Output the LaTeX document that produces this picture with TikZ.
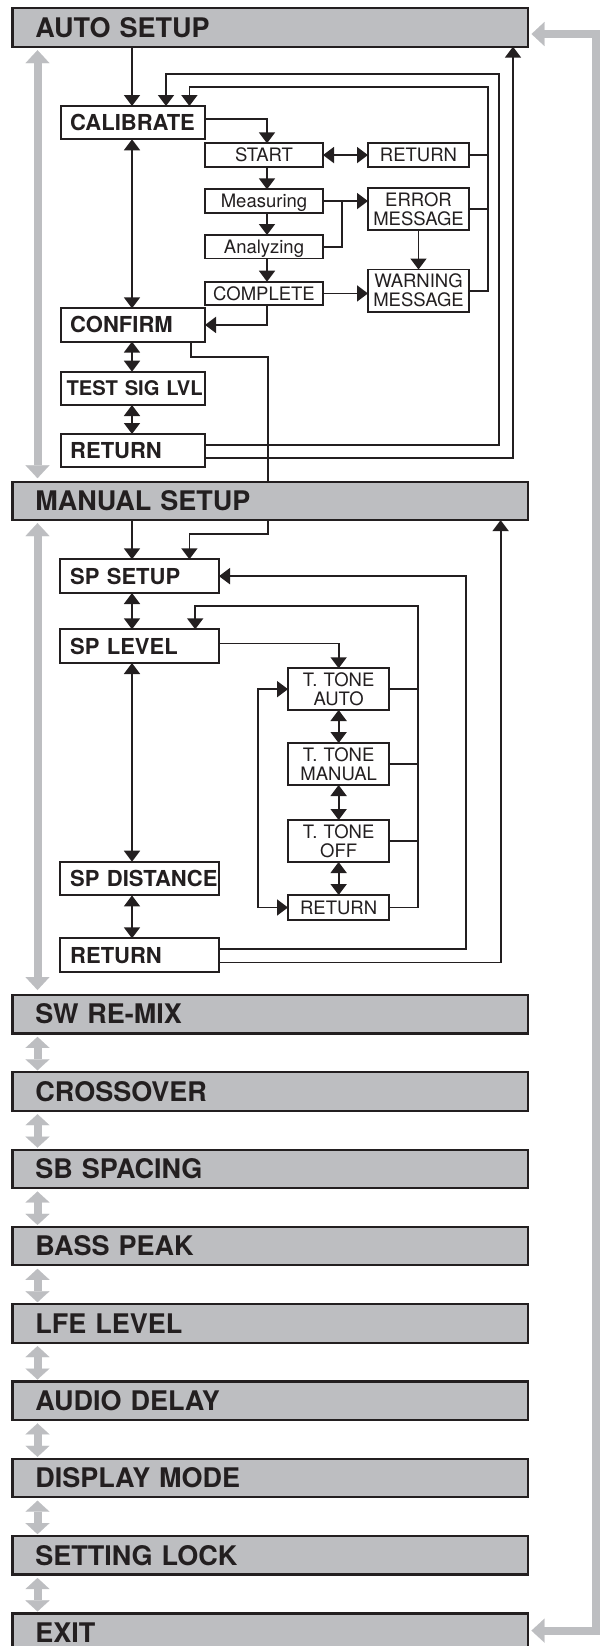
\documentclass[tikz,border=0pt]{standalone}
\usepackage{fontspec}
\setmainfont{TeX Gyre Heros}
\usetikzlibrary{arrows.meta,calc}
\definecolor{hdr}{RGB}{189,190,193}
\definecolor{garr}{RGB}{189,190,193}
\definecolor{ink}{RGB}{35,31,32}
\tikzset{
  hdrbox/.style={draw=ink, line width=2.2pt, fill=hdr, anchor=north west, outer sep=0pt,
    inner ysep=0pt, inner xsep=23pt, text width=469.6pt, minimum height=38.4pt, align=left,
    font=\bfseries\fontsize{27}{29}\selectfont, text height=19.4pt, text depth=0pt, text=ink},
  subA/.style={draw=ink, line width=2pt, fill=white, anchor=north west, outer sep=0pt,
    inner ysep=0pt, inner xsep=9.2pt, text width=125.6pt, minimum height=33.3pt, align=left,
    font=\bfseries\fontsize{22}{24}\selectfont, text height=15.8pt, text depth=0pt, text=ink},
  subB/.style={subA, inner xsep=10.2pt, text width=138.6pt, minimum height=33.7pt},
  smallbox/.style={draw=ink, line width=1.8pt, fill=white, anchor=north west, outer sep=0pt,
    inner sep=0pt, text width=118pt, minimum height=23.5pt, align=center,
    font=\fontsize{18.5}{20}\selectfont, text height=13.3pt, text depth=0pt, text=ink},
  twobox/.style={draw=ink, line width=1.8pt, fill=white, anchor=north west, outer sep=0pt,
    inner sep=0pt, text width=101pt, minimum height=42pt, align=center,
    font=\fontsize{18.5}{19}\selectfont, text=ink},
  ln/.style={draw=ink, line width=1.8pt},
  arr/.style={ln, -{Triangle[length=11pt,width=16pt]}},
  darr/.style={ln, {Triangle[length=11pt,width=16pt]}-{Triangle[length=11pt,width=16pt]}},
  gdarr/.style={draw=garr, line width=8pt,
    {Triangle[length=13pt,width=24pt,line width=0.1pt]}-{Triangle[length=13pt,width=24pt,line width=0.1pt]}},
  gsmall/.style={draw=garr, line width=8pt,
    {Triangle[length=11pt,width=24pt,line width=0.1pt]}-{Triangle[length=11pt,width=24pt,line width=0.1pt]}},
}
\begin{document}
\begin{tikzpicture}[x=1pt,y=-1pt]
\useasboundingbox (0,0) rectangle (603,1646);
\clip (0,0) rectangle (603,1646);

% headers
\node[hdrbox] (auto) at (12.4,8.3) {AUTO SETUP};
\node[hdrbox] (manual) at (12.4,481.7) {MANUAL SETUP};
\node[hdrbox] (swremix) at (12.4,995) {SW RE-MIX};
\node[hdrbox] (crossover) at (12.4,1072.3) {CROSSOVER};
\node[hdrbox] (sbspacing) at (12.4,1149.6) {SB SPACING};
\node[hdrbox] (basspeak) at (12.4,1226.9) {BASS PEAK};
\node[hdrbox] (lfelevel) at (12.4,1304.2) {LFE LEVEL};
\node[hdrbox] (audiodelay) at (12.4,1381.5) {AUDIO DELAY};
\node[hdrbox] (displaymode) at (12.4,1458.8) {DISPLAY MODE};
\node[hdrbox] (settinglock) at (12.4,1536.1) {SETTING LOCK};
\node[hdrbox] (exit) at (12.4,1613.4) {EXIT};

% auto setup items
\node[subA] (calib) at (61,106) {\mbox{CALIBRATE}};
\node[subA] (confirm) at (61,308.3) {CONFIRM};
\node[subA, inner xsep=5.5pt, text width=133pt, font=\bfseries\fontsize{20.2}{22}\selectfont, text height=14.5pt] (testsig) at (61,371.7) {\mbox{TEST SIG LVL}};
\node[subA] (ret1) at (61,434) {RETURN};

\node[smallbox] (start) at (205,143.3) {START};
\node[smallbox] (meas) at (205,189.3) {Measuring};
\node[smallbox] (anal) at (205,235) {Analyzing};
\node[smallbox] (compl) at (205,281.7) {COMPLETE};
\node[smallbox, text width=101pt] (retA) at (368,143.3) {RETURN};
\node[twobox, minimum height=41.7pt] (err) at (368,188.3) {ERROR\\MESSAGE};
\node[twobox, minimum height=42.2pt] (warn) at (368,269.5) {WARNING\\MESSAGE};

% manual setup items
\node[subB] (spsetup) at (60,559.3) {SP SETUP};
\node[subB] (splevel) at (60,629.3) {SP LEVEL};
\node[subB] (spdist) at (60,861.7) {\mbox{SP DISTANCE}};
\node[subB] (ret2) at (60,938.3) {RETURN};

\node[twobox, text width=101.3pt, minimum height=41.7pt] (tta) at (288,668.3) {T. TONE\\AUTO};
\node[twobox, text width=101.3pt] (ttm) at (288,743) {T. TONE\\MANUAL};
\node[twobox, text width=101.3pt] (tto) at (288,820) {T. TONE\\OFF};
\node[smallbox, text width=101.3pt, minimum height=25pt] (ttr) at (288,895) {RETURN};

% helper coordinates
\coordinate (cA) at (132,0);
\coordinate (cM) at (267,0);
\coordinate (oR) at (498.6,74);
\coordinate (oL) at (166,74);
\coordinate (iR) at (488,87.3);
\coordinate (iL) at (189.4,87.3);
\coordinate (uA) at (513,0);
\coordinate (mj) at (342,0);
\coordinate (cf) at (191.3,0);
\coordinate (cm2) at (268,356.7);
\coordinate (cm3) at (189.4,534.3);
\coordinate (r2x) at (466,0);
\coordinate (uM) at (500.6,0);
\coordinate (tR) at (418,605.7);
\coordinate (tL) at (195.2,605.7);
\coordinate (tl2) at (258,0);
\coordinate (gx) at (37.5,0);
\coordinate (gR) at (595.5,0);

% auto setup connectors
\draw[arr] (auto.south -| cA) -- (calib.north -| cA);
\draw[darr] (calib.south -| cA) -- (confirm.north -| cA);
\draw[darr] (confirm.south -| cA) -- (testsig.north -| cA);
\draw[darr] (testsig.south -| cA) -- (ret1.north -| cA);
\draw[arr] ($(ret1.east)+(0,-6)$) -| (oR) -- (oL) -- (oL |- calib.north);
\draw[arr] (warn.east) -| (iR) -- (iL) -- (iL |- calib.north);
\draw[ln] (retA.east) -- (retA.east -| iR);
\draw[ln] (err.east) -- (err.east -| iR);
\draw[arr] ($(ret1.east)+(0,7)$) -| (auto.south -| uA);
\draw[arr] ($(calib.east)+(0,-3.5)$) -| (start.north -| cM);
\draw[darr] (start.east) -- (retA.west);
\draw[arr] (start.south -| cM) -- (meas.north -| cM);
\draw[arr] (meas.south -| cM) -- (anal.north -| cM);
\draw[arr] (anal.south -| cM) -- (compl.north -| cM);
\draw[arr] (meas.east) -- (meas.east -| err.west);
\draw[ln] (anal.east) -| (meas.east -| mj);
\draw[arr] (err.south) -- (warn.north);
\draw[arr] (compl.east) -- (compl.east -| warn.west);
\draw[arr] (compl.south -| cM) |- (confirm.east);
\draw[ln] (confirm.south -| cf) |- (cm2) -- (cm2 |- manual.north);
\draw[arr] (manual.south -| cm2) |- (cm3) -- (cm3 |- spsetup.north);

% manual setup connectors
\draw[arr] (manual.south -| cA) -- (spsetup.north -| cA);
\draw[darr] (spsetup.south -| cA) -- (splevel.north -| cA);
\draw[darr] (splevel.south -| cA) -- (spdist.north -| cA);
\draw[darr] (spdist.south -| cA) -- (ret2.north -| cA);
\draw[arr] ($(ret2.east)+(0,-6)$) -| (spsetup.east -| r2x) -- (spsetup.east);
\draw[arr] ($(ret2.east)+(0,7.4)$) -| (manual.south -| uM);
\draw[arr] (ttr.east) -| (tR) -- (tL) -- (tL |- splevel.north);
\draw[ln] (tta.east) -- (tta.east -| tR);
\draw[ln] (ttm.east) -- (ttm.east -| tR);
\draw[ln] (tto.east) -- (tto.east -| tR);
\draw[arr] ($(splevel.east)+(0,-2.7)$) -| (tta.north);
\draw[darr] (tta.south) -- (ttm.north);
\draw[darr] (ttm.south) -- (tto.north);
\draw[darr] (tto.south) -- (ttr.north);
\draw[darr] (tta.west) -- (tta.west -| tl2) -- (ttr.west -| tl2) -- (ttr.west);

% grey navigation arrows
\draw[gdarr] ($(auto.south -| gx)+(0,3.5)$) -- ($(manual.north -| gx)+(0,-3.5)$);
\draw[gdarr] ($(manual.south -| gx)+(0,3)$) -- ($(swremix.north -| gx)+(0,-5)$);
\foreach \a/\b in {swremix/crossover, crossover/sbspacing, sbspacing/basspeak,
  basspeak/lfelevel, lfelevel/audiodelay, audiodelay/displaymode,
  displaymode/settinglock, settinglock/exit}{
  \draw[gsmall] ($(\a.south -| gx)+(0,3.5)$) -- ($(\b.north -| gx)+(0,-2)$);
}
\draw[gdarr] ($(auto.east)+(3.5,6.5)$) -- ($(auto.east -| gR)+(0,6.5)$)
  -- ($(exit.east -| gR)+(0,-2)$) -- ($(exit.east)+(3.5,-2)$);
\end{tikzpicture}
\end{document}
